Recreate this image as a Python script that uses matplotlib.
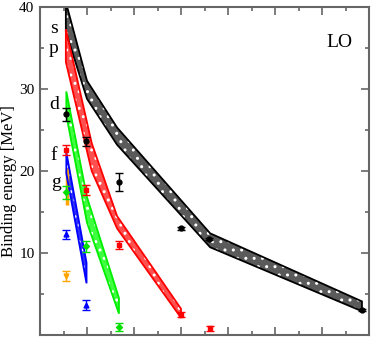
import matplotlib
matplotlib.use('Agg')
import matplotlib.pyplot as plt
import numpy as np
from matplotlib.ticker import MultipleLocator

plt.rcParams['font.family'] = ['Liberation Serif', 'DejaVu Serif']
plt.rcParams['hatch.linewidth'] = 1.0

# ---- bands (upper / lower edge at each x) ----
black_band_x = [0.55, 1.0, 1.64, 3.62, 6.85]
black_band_hi = [40.6, 31.0, 25.3, 12.4, 4.1]
black_band_lo = [37.0, 28.8, 23.2, 10.7, 2.9]

red_band_x = [0.55, 1.1, 1.64, 3.0]
red_band_hi = [37.3, 23.4, 14.5, 3.2]
red_band_lo = [33.3, 20.0, 13.0, 2.1]

green_band_x = [0.56, 1.0, 1.68]
green_band_hi = [29.7, 16.8, 4.5]
green_band_lo = [26.8, 13.7, 2.6]

blue_band_x = [0.56, 0.99]
blue_band_hi = [22.3, 8.8]
blue_band_lo = [19.7, 6.3]

orange_band_x = [0.57]
orange_band_hi = [20.4]
orange_band_lo = [15.8]

# ---- points with error bars ----
black_x = [0.56, 0.98, 1.68, 3.01, 3.6, 6.85]
black_y = [26.9, 23.6, 18.7, 13.0, 11.7, 3.1]
black_err = [0.8, 0.5, 1.1, 0.15, 0.15, 0.12]

red_x = [0.55, 0.98, 1.68, 3.0, 3.62]
red_y = [22.6, 17.7, 11.0, 2.5, 0.8]
red_err = [0.6, 0.6, 0.5, 0.25, 0.28]

green_x = [0.56, 0.98, 1.68]
green_y = [17.4, 10.8, 1.0]
green_err = [0.8, 0.65, 0.5]

blue_x = [0.56, 0.98]
blue_y = [12.3, 3.7]
blue_err = [0.55, 0.6]

orange_x = [0.56]
orange_y = [7.2]
orange_err = [0.6]

wave_labels = ['s', 'p', 'd', 'f', 'g']
wave_label_x = [0.29, 0.29, 0.30, 0.30, 0.34]
wave_label_y = [36.8, 34.4, 27.5, 21.4, 18.0]


def draw_band(ax, x, hi, lo, face, edge):
    xs = np.concatenate([x, x[::-1]])
    ys = np.concatenate([hi, lo[::-1]])
    ax.fill(xs, ys, facecolor=face, edgecolor='none', zorder=2)
    ax.fill(xs, ys, facecolor='none', edgecolor='white', hatch='..',
            linewidth=0, zorder=2.1)
    ax.fill(xs, ys, facecolor='none', edgecolor=edge, linewidth=1.3,
            zorder=2.2)


fig = plt.figure(figsize=(3.71, 3.37), dpi=100)
ax = fig.add_axes([40 / 371, 2 / 337, 329 / 371, 328 / 337])

draw_band(ax, np.array(black_band_x), np.array(black_band_hi),
          np.array(black_band_lo), '#5a5a5a', 'black')
draw_band(ax, np.array(red_band_x), np.array(red_band_hi),
          np.array(red_band_lo), '#ff5050', '#ff0000')
draw_band(ax, np.array(green_band_x), np.array(green_band_hi),
          np.array(green_band_lo), '#40ff40', '#00ee00')
draw_band(ax, np.array(blue_band_x), np.array(blue_band_hi),
          np.array(blue_band_lo), '#3030ff', '#0000ff')
ax.vlines(orange_band_x, orange_band_lo, orange_band_hi, color='#ffa500',
          linewidth=2.5, zorder=2)

ekw = dict(linestyle='none', capsize=3, elinewidth=1, capthick=1,
           markersize=3.5, zorder=3)
ax.errorbar(black_x, black_y, yerr=black_err, fmt='o', color='black', **ekw)
ax.errorbar(red_x, red_y, yerr=red_err, fmt='s', color='#ff0000', **ekw)
ax.errorbar(green_x, green_y, yerr=green_err, fmt='D', color='#00e000',
            **{**ekw, 'markersize': 3})
ax.errorbar(blue_x, blue_y, yerr=blue_err, fmt='^', color='#0000ff', **ekw)
ax.errorbar(orange_x, orange_y, yerr=orange_err, fmt='v', color='#ffa500',
            **ekw)

for lab, lx, ly in zip(wave_labels, wave_label_x, wave_label_y):
    ax.text(lx, ly, lab, fontsize=14, ha='center', va='baseline')
ax.text(6.37, 35.1, 'LO', fontsize=14, ha='center', va='baseline')

ax.set_xlim(0, 7)
ax.set_ylim(0, 40)
ax.xaxis.set_major_locator(MultipleLocator(1))
ax.xaxis.set_minor_locator(MultipleLocator(0.5))
ax.set_yticks([10, 20, 30, 40])
ax.yaxis.set_minor_locator(MultipleLocator(5))
ax.tick_params(which='both', direction='in', top=True, right=True,
               labelbottom=False, color='0.4', width=1.2)
ax.tick_params(which='major', length=6, labelsize=11, pad=4)
ax.tick_params(which='minor', length=3)
for sp in ax.spines.values():
    sp.set_color('0.4')
    sp.set_linewidth(1.5)

ax.set_ylabel('Binding energy [MeV]', fontsize=12)
ax.yaxis.set_label_coords(-0.07, 0.47)

fig.savefig('out.png', dpi=100)
